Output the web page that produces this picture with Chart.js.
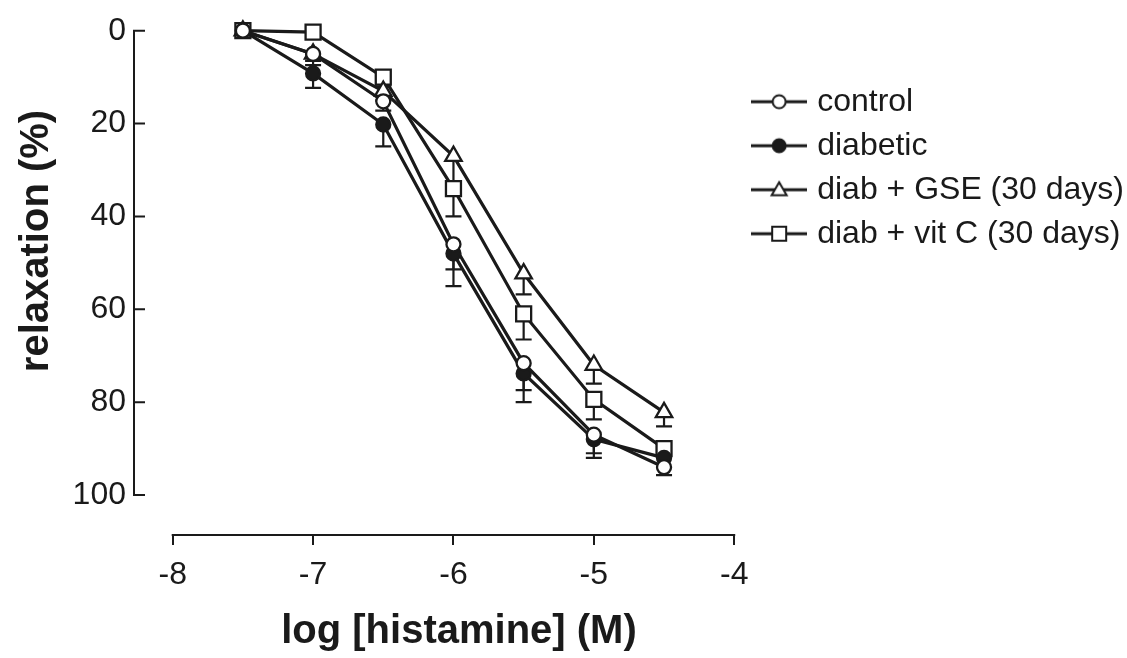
<!DOCTYPE html>
<html><head><meta charset="utf-8">
<script src="https://cdn.jsdelivr.net/npm/chart.js@4/dist/chart.umd.min.js"></script>
<style>html,body{margin:0;padding:0;background:#fff;} canvas{display:block}</style>
</head><body>
<canvas id="c" width="1127" height="658"></canvas>
<script>
const logConc = [-7.5, -7, -6.5, -6, -5.5, -5, -4.5];
const seriesNames = ['control', 'diabetic', 'diab + GSE (30 days)', 'diab + vit C (30 days)'];
const controlVals = [0, 5, 15.2, 46, 71.6, 87, 94];
const controlErr  = [0, 2.4, 2, 5.4, 5.8, 4, 1.7];
const diabeticVals = [0, 9.2, 20.2, 48, 73.8, 88, 92];
const diabeticErr  = [0, 3.1, 4.7, 7, 6.2, 4, 2];
const gseVals = [0, 5, 13, 27, 52.3, 72, 82.2];
const gseErr  = [0, 1.5, 2, 6, 4.5, 4, 3];
const vitcVals = [0, 0.3, 10, 34, 61, 79.4, 90];
const vitcErr  = [0, 0, 2, 6, 5.5, 4.3, 1.5];
const xTicks = [-8, -7, -6, -5, -4];
const yTicks = [0, 20, 40, 60, 80, 100];
const xTitle = 'log [histamine] (M)';
const yTitle = 'relaxation (%)';

const INK = '#1a1a1a';
const FAMILY = "'Liberation Sans', Arial, Helvetica, sans-serif";

function makeIcon(style, fill) {
  const c = document.createElement('canvas');
  c.width = 56; c.height = 20;
  const g = c.getContext('2d');
  g.strokeStyle = INK; g.lineWidth = 3;
  g.beginPath(); g.moveTo(0, 10); g.lineTo(56, 10); g.stroke();
  g.fillStyle = fill; g.lineWidth = 2;
  g.beginPath();
  if (style === 'circle') g.arc(28, 10, 6.5, 0, Math.PI * 2);
  else if (style === 'triangle') { g.moveTo(28, 2.5); g.lineTo(35.5, 15.5); g.lineTo(20.5, 15.5); g.closePath(); }
  else g.rect(21, 3, 14, 14);
  g.fill(); g.stroke();
  return c;
}
const legendIcons = [
  makeIcon('circle', '#fff'),
  makeIcon('circle', INK),
  makeIcon('triangle', '#fff'),
  makeIcon('rect', '#fff')
];

function series(label, vals, errs, style, fill, radius) {
  return {
    label: label,
    data: logConc.map((v, i) => ({x: v, y: vals[i]})),
    errors: errs,
    borderColor: INK,
    borderWidth: 3.2,
    pointStyle: style,
    pointRadius: radius,
    pointHoverRadius: radius,
    pointBackgroundColor: fill,
    pointBorderColor: INK,
    pointBorderWidth: 2.3,
    tension: 0,
    fill: false,
    clip: false
  };
}

const extrasPlugin = {
  id: 'extras',
  beforeDatasetsDraw(chart) {
    const {ctx, chartArea} = chart;
    const x = chart.scales.x, y = chart.scales.y;
    ctx.save();
    ctx.strokeStyle = INK;
    ctx.lineWidth = 2;
    // y axis (offset, inward ticks)
    const ax = chartArea.left - 38.7;
    ctx.beginPath();
    ctx.moveTo(ax, y.getPixelForValue(yTicks[0]));
    ctx.lineTo(ax, y.getPixelForValue(yTicks[yTicks.length - 1]));
    yTicks.forEach(t => {
      const py = y.getPixelForValue(t);
      ctx.moveTo(ax - 1, py); ctx.lineTo(ax + 11, py);
    });
    ctx.stroke();
    // x axis line between first and last tick
    ctx.beginPath();
    ctx.moveTo(x.getPixelForValue(xTicks[0]) - 1, chartArea.bottom);
    ctx.lineTo(x.getPixelForValue(xTicks[xTicks.length - 1]) + 1, chartArea.bottom);
    ctx.stroke();
    // error bars
    ctx.lineWidth = 2.2;
    chart.data.datasets.forEach(ds => {
      ds.errors.forEach((e, i) => {
        if (!e) return;
        const px = x.getPixelForValue(ds.data[i].x);
        const y0 = y.getPixelForValue(ds.data[i].y);
        const y1 = y.getPixelForValue(ds.data[i].y + e);
        ctx.beginPath();
        ctx.moveTo(px, y0); ctx.lineTo(px, y1);
        ctx.moveTo(px - 8, y1); ctx.lineTo(px + 8, y1);
        ctx.stroke();
      });
    });
    ctx.restore();
  },
  afterDraw(chart) {
    const {ctx} = chart;
    ctx.save();
    ctx.translate(37, 241);
    ctx.rotate(-Math.PI / 2);
    ctx.font = 'bold 40px ' + FAMILY;
    ctx.fillStyle = INK;
    ctx.textAlign = 'center';
    ctx.textBaseline = 'middle';
    ctx.fillText(yTitle, 0, 0);
    ctx.restore();
  }
};

new Chart(document.getElementById('c'), {
  type: 'line',
  data: {
    datasets: [
      series(seriesNames[0], controlVals, controlErr, 'circle', '#fff', 7),
      series(seriesNames[1], diabeticVals, diabeticErr, 'circle', INK, 7),
      series(seriesNames[2], gseVals, gseErr, 'triangle', '#fff', 9.5),
      series(seriesNames[3], vitcVals, vitcErr, 'rect', '#fff', 10.6)
    ]
  },
  options: {
    responsive: false,
    animation: false,
    devicePixelRatio: 1,
    layout: {padding: {top: 30.7, right: -7, bottom: 0, left: 0}},
    plugins: {
      tooltip: {enabled: false},
      legend: {
        position: 'right',
        align: 'start',
        maxWidth: 1000,
        title: {display: true, text: ' ', font: {size: 10}, padding: {top: 31, bottom: 0}},
        labels: {
          usePointStyle: true,
          pointStyleWidth: 44,
          padding: 12,
          color: INK,
          font: {size: 32, family: FAMILY},
          generateLabels(chart) {
            const items = Chart.defaults.plugins.legend.labels.generateLabels(chart);
            items.forEach((it, i) => { it.pointStyle = legendIcons[i]; });
            return items;
          }
        }
      }
    },
    scales: {
      x: {
        type: 'linear',
        min: -8,
        max: -3.922,
        afterBuildTicks: s => { s.ticks = xTicks.map(v => ({value: v})); },
        afterFit: s => { s.height = 123; },
        border: {display: false},
        grid: {display: true, drawOnChartArea: false, drawTicks: true, tickLength: 10, color: INK, lineWidth: 2},
        ticks: {color: INK, font: {size: 32, family: FAMILY}, padding: 11, maxRotation: 0},
        title: {display: true, text: xTitle, color: INK, font: {size: 40, weight: 'bold', family: FAMILY}, padding: {top: 0, bottom: 2}}
      },
      y: {
        type: 'linear',
        reverse: true,
        min: 0,
        max: 108.6,
        afterBuildTicks: s => { s.ticks = yTicks.map(v => ({value: v})); },
        afterFit: s => { s.width = 172.7; },
        border: {display: false},
        grid: {display: false, drawTicks: true, tickLength: 44.7},
        ticks: {color: INK, font: {size: 32, family: FAMILY}, padding: 2}
      }
    }
  },
  plugins: [extrasPlugin]
});
</script>
</body></html>
